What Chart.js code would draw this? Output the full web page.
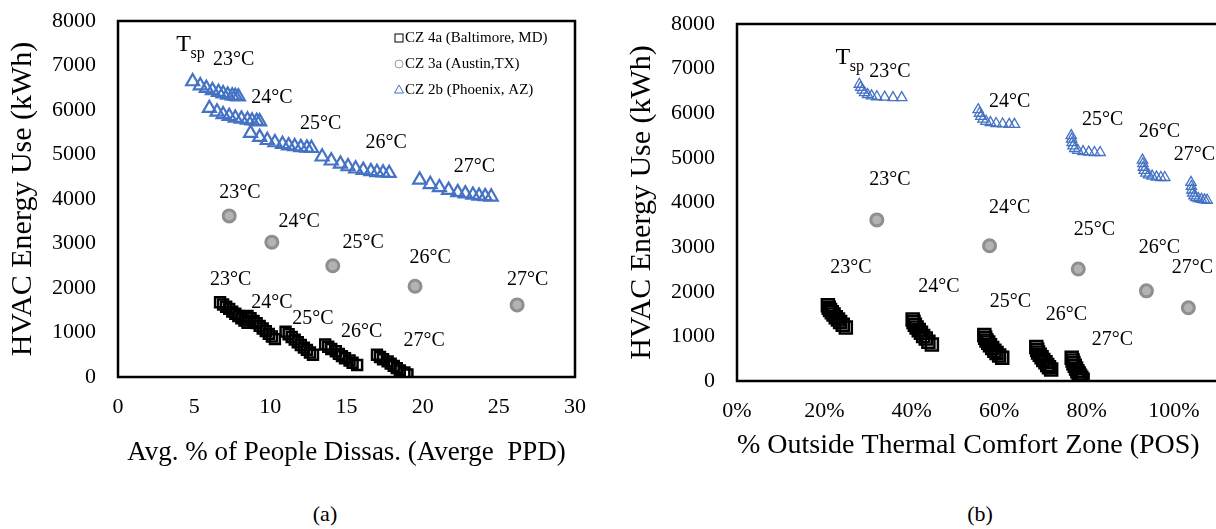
<!DOCTYPE html>
<html>
<head>
<meta charset="utf-8">
<script src="https://cdn.jsdelivr.net/npm/chart.js@4.4.1/dist/chart.umd.min.js"></script>
<style>
  html, body { margin: 0; padding: 0; background: #fff; overflow: hidden; width: 1216px; height: 529px; }
  .wrap { position: absolute; top: 0; height: 480px; }
  #wrapA { left: 0; width: 600px; }
  #wrapB { left: 600px; width: 687px; }
  .cap { position: absolute; top: 501px; transform: translateX(-50%); font: 22px "Liberation Serif", serif; color: #000; }
</style>
</head>
<body>
<div class="wrap" id="wrapA"><canvas id="ppdChart" width="600" height="480"></canvas></div>
<div class="wrap" id="wrapB"><canvas id="posChart" width="687" height="480"></canvas></div>
<div class="cap" style="left:325px">(a)</div>
<div class="cap" style="left:980px">(b)</div>
<script>
// setpoint groups
const setpoints = ['23°C', '24°C', '25°C', '26°C', '27°C'];
const seriesNames = ['CZ 4a (Baltimore, MD)', 'CZ 3a (Austin,TX)', 'CZ 2b (Phoenix, AZ)'];

// (a) average PPD (%) vs HVAC energy (kWh), one row per setpoint
const ppdBaltimoreX = [
  [6.7, 6.9, 7.1, 7.3, 7.5, 7.7, 7.9, 8.1, 8.3, 8.5],
  [8.5, 8.7, 8.9, 9.1, 9.3, 9.5, 9.7, 9.9, 10.1, 10.3],
  [11.0, 11.2, 11.4, 11.6, 11.8, 12.0, 12.2, 12.4, 12.6, 12.8],
  [13.6, 13.8, 14.0, 14.3, 14.5, 14.7, 14.9, 15.2, 15.4, 15.7],
  [17.0, 17.2, 17.4, 17.7, 17.9, 18.1, 18.3, 18.5, 18.8, 19.0]
];
const ppdBaltimoreY = [
  [1680, 1630, 1580, 1530, 1470, 1420, 1370, 1320, 1270, 1220],
  [1370, 1320, 1260, 1210, 1150, 1090, 1030, 970, 910, 850],
  [1020, 960, 900, 840, 780, 720, 660, 610, 550, 500],
  [730, 680, 630, 580, 520, 470, 420, 370, 320, 270],
  [500, 450, 400, 350, 300, 250, 200, 150, 100, 60]
];
const ppdAustinX = [7.3, 10.1, 14.1, 19.5, 26.2];
const ppdAustinY = [3620, 3030, 2500, 2040, 1620];
const ppdPhoenixX = [
  [4.9, 5.4, 5.8, 6.2, 6.6, 6.9, 7.2, 7.5, 7.7, 7.9],
  [6.0, 6.5, 6.9, 7.3, 7.7, 8.1, 8.5, 8.8, 9.1, 9.3],
  [8.7, 9.3, 9.8, 10.3, 10.8, 11.2, 11.6, 12.0, 12.4, 12.7],
  [13.4, 14.0, 14.6, 15.1, 15.6, 16.1, 16.6, 17.0, 17.4, 17.8],
  [19.8, 20.5, 21.1, 21.7, 22.3, 22.8, 23.3, 23.7, 24.1, 24.5]
];
const ppdPhoenixY = [
  [6640, 6550, 6490, 6440, 6400, 6370, 6340, 6320, 6310, 6300],
  [6040, 5960, 5900, 5860, 5820, 5800, 5780, 5760, 5750, 5740],
  [5480, 5390, 5320, 5270, 5230, 5200, 5180, 5160, 5150, 5140],
  [4950, 4860, 4790, 4730, 4680, 4650, 4620, 4600, 4590, 4580],
  [4430, 4330, 4260, 4200, 4150, 4120, 4090, 4070, 4060, 4050]
];

// (b) % outside comfort zone (POS) vs HVAC energy (kWh)
const posBaltimoreX = [
  [20.8, 21.0, 21.3, 21.7, 22.1, 22.6, 23.1, 23.6, 24.2, 24.9],
  [40.2, 40.4, 40.7, 41.1, 41.6, 42.1, 42.6, 43.2, 43.8, 44.6],
  [56.6, 56.8, 57.1, 57.5, 57.9, 58.4, 58.9, 59.4, 60.0, 60.7],
  [68.5, 68.7, 68.9, 69.3, 69.7, 70.1, 70.6, 71.0, 71.4, 71.9],
  [76.6, 76.8, 77.0, 77.3, 77.6, 77.9, 78.2, 78.5, 78.8, 79.1]
];
const posBaltimoreY = [
  [1700, 1640, 1590, 1540, 1490, 1430, 1380, 1320, 1260, 1200],
  [1380, 1320, 1260, 1200, 1140, 1080, 1010, 950, 880, 820],
  [1030, 970, 910, 860, 800, 740, 680, 630, 570, 520],
  [760, 700, 640, 590, 530, 470, 420, 360, 310, 260],
  [520, 460, 400, 340, 280, 220, 170, 120, 70, 30]
];
const posAustinX = [32.0, 57.8, 78.1, 93.7, 103.3];
const posAustinY = [3610, 3030, 2510, 2020, 1640];
const posPhoenixX = [
  [28.0, 28.3, 28.7, 29.2, 29.9, 30.8, 32.0, 33.8, 35.7, 37.7],
  [55.2, 55.5, 55.8, 56.3, 57.0, 58.0, 59.3, 60.8, 62.3, 63.5],
  [76.5, 76.6, 76.7, 76.9, 77.3, 78.0, 79.2, 80.5, 81.8, 83.1],
  [92.8, 92.9, 93.0, 93.2, 93.6, 94.2, 95.0, 96.0, 97.0, 97.9],
  [103.9, 104.0, 104.1, 104.3, 104.6, 105.0, 105.6, 106.3, 107.0, 107.6]
];
const posPhoenixY = [
  [6650, 6580, 6520, 6460, 6420, 6390, 6370, 6360, 6350, 6350],
  [6080, 6000, 5930, 5870, 5820, 5790, 5770, 5760, 5750, 5750],
  [5500, 5420, 5340, 5270, 5210, 5170, 5140, 5130, 5120, 5120],
  [4950, 4870, 4790, 4720, 4660, 4620, 4590, 4570, 4560, 4560],
  [4450, 4360, 4280, 4210, 4150, 4110, 4090, 4070, 4060, 4050]
];

// where the setpoint captions sit, in axis units [x, y]
const ppdLabelSpots = {
  tsp: [4.3, 7460],
  baltimore: [[7.4, 2180], [10.1, 1660], [12.8, 1320], [16.0, 1010], [20.1, 810]],
  austin: [[8.0, 4130], [11.9, 3480], [16.1, 3010], [20.5, 2670], [26.9, 2180]],
  phoenix: [[7.6, 7120], [10.1, 6270], [13.3, 5690], [17.6, 5260], [23.4, 4720]]
};
const posLabelSpots = {
  tsp: [24.2, 7240],
  baltimore: [[26.1, 2530], [46.2, 2110], [62.6, 1770], [75.4, 1480], [85.9, 920]],
  austin: [[35.0, 4510], [62.4, 3880], [81.8, 3390], [96.7, 2980], [104.2, 2530]],
  phoenix: [[35.0, 6930], [62.4, 6260], [83.7, 5850], [96.7, 5580], [104.7, 5070]]
};

const SERIF = '"Liberation Serif", "Times New Roman", serif';
const BLUE = '#4472C4';
const GREY = '#9a9a9a';

const zipGroups = (xs, ys) => xs.flatMap((g, i) => g.map((x, j) => ({ x, y: ys[i][j] })));
const zip = (xs, ys) => xs.map((x, i) => ({ x, y: ys[i] }));

// box round the plot area
const frame = {
  id: 'frame',
  afterDatasetsDraw(chart) {
    const { ctx, chartArea: a } = chart;
    ctx.save();
    ctx.strokeStyle = '#000';
    ctx.lineWidth = 2.5;
    ctx.strokeRect(a.left, a.top, a.right - a.left, a.bottom - a.top);
    ctx.restore();
  }
};

// setpoint captions and the T_sp marker
const setpointText = {
  id: 'setpointText',
  afterDatasetsDraw(chart, args, opts) {
    const { ctx, scales: { x, y } } = chart;
    const at = p => [x.getPixelForValue(p[0]), y.getPixelForValue(p[1])];
    ctx.save();
    ctx.fillStyle = '#000';
    ctx.textAlign = 'center';
    ctx.textBaseline = 'middle';
    ctx.font = '20px ' + SERIF;
    ['baltimore', 'austin', 'phoenix'].forEach(k =>
      opts.spots[k].forEach((p, i) => {
        const [px, py] = at(p);
        ctx.fillText(setpoints[i], px, py);
      })
    );
    const [tx, ty] = at(opts.spots.tsp);
    ctx.font = '24px ' + SERIF;
    ctx.fillText('T', tx, ty);
    ctx.font = '16px ' + SERIF;
    ctx.textAlign = 'left';
    ctx.fillText('sp', tx + 7, ty + 9);
    ctx.restore();
  }
};

// small legend tucked into the top-right corner of the plot
const cornerLegend = {
  id: 'cornerLegend',
  afterDatasetsDraw(chart, args, opts) {
    if (!opts.show) return;
    const { ctx, chartArea: a } = chart;
    const left = a.right - 170;
    ctx.save();
    ctx.font = '15px ' + SERIF;
    ctx.textBaseline = 'middle';
    ctx.textAlign = 'left';
    seriesNames.forEach((name, i) => {
      const cy = a.top + 17 + i * 26;
      const mx = left - 6;
      ctx.lineWidth = 1;
      if (i === 0) {
        ctx.strokeStyle = '#000';
        ctx.strokeRect(mx - 4, cy - 4, 8, 8);
      } else if (i === 1) {
        ctx.strokeStyle = GREY;
        ctx.beginPath(); ctx.arc(mx, cy, 4, 0, Math.PI * 2); ctx.stroke();
      } else {
        ctx.strokeStyle = BLUE;
        ctx.beginPath();
        ctx.moveTo(mx, cy - 5); ctx.lineTo(mx + 4.5, cy + 3); ctx.lineTo(mx - 4.5, cy + 3);
        ctx.closePath(); ctx.stroke();
      }
      ctx.fillStyle = '#000';
      ctx.fillText(name, left, cy);
    });
    ctx.restore();
  }
};

function makeChart(id, cfg) {
  return new Chart(document.getElementById(id), {
    type: 'scatter',
    data: {
      datasets: [
        { label: seriesNames[0], data: cfg.baltimore, pointStyle: 'rect', pointRadius: cfg.sq,
          borderColor: '#000', backgroundColor: 'rgba(0,0,0,0)', borderWidth: 2.5 },
        { label: seriesNames[1], data: cfg.austin, pointStyle: 'circle', pointRadius: cfg.dot,
          borderColor: '#8f8f8f', backgroundColor: '#b3b3b3', borderWidth: 3 },
        { label: 'centre', data: cfg.austin, pointStyle: 'circle', pointRadius: 1.6,
          borderColor: BLUE, backgroundColor: BLUE, borderWidth: 0 },
        { label: seriesNames[2], data: cfg.phoenix, pointStyle: 'triangle', pointRadius: cfg.tri,
          borderColor: BLUE, backgroundColor: 'rgba(0,0,0,0)', borderWidth: cfg.triW }
      ]
    },
    options: {
      responsive: false,
      animation: false,
      devicePixelRatio: 1,
      layout: { padding: cfg.pad },
      plugins: {
        legend: { display: false },
        tooltip: { enabled: false },
        setpointText: { spots: cfg.spots },
        cornerLegend: { show: cfg.legend }
      },
      scales: {
        x: {
          type: 'linear', min: 0, max: cfg.xMax,
          // invisible tick marks keep the labels off the axis without growing the layout padding
          grid: { display: false, drawTicks: true, tickLength: 17 },
          border: { display: false },
          ticks: { stepSize: cfg.xStep, padding: 0, color: '#000',
                   font: { family: SERIF, size: 22 }, callback: cfg.xFmt },
          title: { display: true, text: cfg.xTitle, color: '#000', align: cfg.xAlign,
                   font: { family: SERIF, size: cfg.xTitleSize }, padding: { bottom: cfg.xTitlePad } },
          afterFit: s => { s.height = cfg.xH; }
        },
        y: {
          min: 0, max: 8000,
          grid: { display: false, drawTicks: true, tickLength: 22 },
          border: { display: false },
          ticks: { stepSize: 1000, padding: 0, color: '#000', font: { family: SERIF, size: 22 },
                   callback: v => String(v) },
          title: { display: true, text: 'HVAC Energy Use (kWh)', color: '#000',
                   font: { family: SERIF, size: 30 }, padding: { top: cfg.yTitlePad } },
          afterFit: s => { s.width = cfg.yW; }
        }
      }
    },
    plugins: [frame, setpointText, cornerLegend]
  });
}

makeChart('ppdChart', {
  baltimore: zipGroups(ppdBaltimoreX, ppdBaltimoreY),
  austin: zip(ppdAustinX, ppdAustinY),
  phoenix: zipGroups(ppdPhoenixX, ppdPhoenixY),
  spots: ppdLabelSpots,
  legend: true,
  sq: 7, dot: 6, tri: 7.5, triW: 2.2,
  xMax: 30, xStep: 5, xFmt: v => String(v),
  xTitle: 'Avg. % of People Dissas. (Averge  PPD)', xAlign: 'center', xTitleSize: 27, xTitlePad: 11,
  pad: { left: 0, right: 25, top: 21, bottom: 0 },
  xH: 103, yW: 118, yTitlePad: 5
});

makeChart('posChart', {
  baltimore: zipGroups(posBaltimoreX, posBaltimoreY),
  austin: zip(posAustinX, posAustinY),
  phoenix: zipGroups(posPhoenixX, posPhoenixY),
  spots: posLabelSpots,
  legend: false,
  sq: 8.5, dot: 6, tri: 6, triW: 1.3,
  xMax: 120, xStep: 20, xFmt: v => v + '%',
  xTitle: '% Outside Thermal Comfort Zone (POS)', xAlign: 'start', xTitleSize: 28, xTitlePad: 18,
  pad: { left: 0, right: 25, top: 24, bottom: 0 },
  xH: 99, yW: 137, yTitlePad: 24
});
</script>
</body>
</html>
